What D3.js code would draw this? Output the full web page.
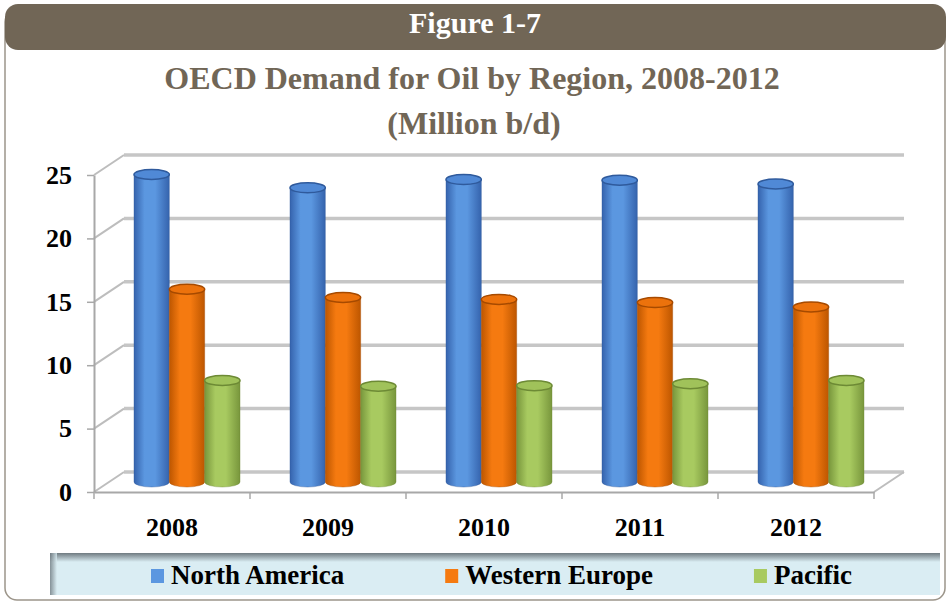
<!DOCTYPE html>
<html>
<head>
<meta charset="utf-8">
<script src="https://cdn.jsdelivr.net/npm/d3@7"></script>
<style>
  body { margin: 0; background: #fff; }
  svg { display: block; }
</style>
</head>
<body>
<svg id="chart"></svg>
<script>
// data
const years = ["2008", "2009", "2010", "2011", "2012"];
const seriesNames = ["North America", "Western Europe", "Pacific"];
const northAmerica = [24.25, 23.2, 23.85, 23.8, 23.5];
const westernEurope = [15.2, 14.55, 14.4, 14.15, 13.8];
const pacific = [8.0, 7.55, 7.6, 7.75, 8.0];
const yTicks = [0, 5, 10, 15, 20, 25];

const W = 948, H = 604;
const serif = "'Liberation Serif', 'Times New Roman', serif";
const brown = "#716656";

const seriesValues = [northAmerica, westernEurope, pacific];
const colors = [
  { edge: "#3563ad", mid: "#5b97e0", top: "#5089d6", rim: "#2f5a9c" },
  { edge: "#bd5600", mid: "#f57a10", top: "#ec720c", rim: "#a64a00" },
  { edge: "#78963c", mid: "#a8ca60", top: "#a0c25a", rim: "#6d8a35" }
];

const svg = d3.select("#chart").attr("width", W).attr("height", H);
const defs = svg.append("defs");

// gradients for cylinder bodies
colors.forEach((c, i) => {
  const g = defs.append("linearGradient").attr("id", "body" + i)
    .attr("x1", "0%").attr("x2", "100%").attr("y1", "0%").attr("y2", "0%");
  g.append("stop").attr("offset", "0%").attr("stop-color", c.edge);
  g.append("stop").attr("offset", "30%").attr("stop-color", c.mid);
  g.append("stop").attr("offset", "60%").attr("stop-color", c.mid);
  g.append("stop").attr("offset", "100%").attr("stop-color", c.edge);
});

// legend shadow gradients
const shTop = defs.append("linearGradient").attr("id", "shTop")
  .attr("x1", "0").attr("x2", "0").attr("y1", "0").attr("y2", "1");
shTop.append("stop").attr("offset", "0%").attr("stop-color", "#6f7a80");
shTop.append("stop").attr("offset", "100%").attr("stop-color", "#daedf3");
const shLeft = defs.append("linearGradient").attr("id", "shLeft")
  .attr("x1", "0").attr("x2", "1").attr("y1", "0").attr("y2", "0");
shLeft.append("stop").attr("offset", "0%").attr("stop-color", "#6f7a80");
shLeft.append("stop").attr("offset", "100%").attr("stop-color", "#daedf3");

// outer frame + header band
svg.append("rect")
  .attr("x", 5).attr("y", 10).attr("width", 940).attr("height", 590)
  .attr("rx", 12).attr("fill", "#fff")
  .attr("stroke", "#9c958a").attr("stroke-width", 1.5);
svg.append("rect")
  .attr("x", 5).attr("y", 4).attr("width", 941).attr("height", 46)
  .attr("rx", 13).attr("fill", brown);
svg.append("text")
  .attr("x", 475).attr("y", 33)
  .attr("text-anchor", "middle")
  .attr("font-family", serif).attr("font-weight", "bold").attr("font-size", 30)
  .attr("fill", "#fff")
  .text("Figure 1-7");

// title
svg.append("text")
  .attr("x", 472).attr("y", 89)
  .attr("text-anchor", "middle")
  .attr("font-family", serif).attr("font-weight", "bold").attr("font-size", 32)
  .attr("fill", brown)
  .text("OECD Demand for Oil by Region, 2008-2012");
svg.append("text")
  .attr("x", 474).attr("y", 134)
  .attr("text-anchor", "middle")
  .attr("font-family", serif).attr("font-weight", "bold").attr("font-size", 32)
  .attr("fill", brown)
  .text("(Million b/d)");

// scales
const x0 = d3.scaleBand().domain(years).range([94, 874]);
const x1 = d3.scaleBand().domain(seriesNames).range([25, 131]);
const y = d3.scaleLinear().domain([0, 25]).range([492, 175]);
const depth = { dx: 30, dy: -20 };

const plot = svg.append("g");

// back wall gridlines
plot.append("g").selectAll("line").data(yTicks).join("line")
  .attr("x1", x0.range()[0] + depth.dx).attr("x2", x0.range()[1] + depth.dx)
  .attr("y1", d => y(d) + depth.dy).attr("y2", d => y(d) + depth.dy)
  .attr("stroke", "#c6c6c6").attr("stroke-width", 3.5);

// side wall diagonals
plot.append("g").selectAll("line").data(yTicks).join("line")
  .attr("x1", x0.range()[0]).attr("x2", x0.range()[0] + depth.dx)
  .attr("y1", d => y(d)).attr("y2", d => y(d) + depth.dy)
  .attr("stroke", "#bdbdbd").attr("stroke-width", 2);

// floor right edge
plot.append("line")
  .attr("x1", x0.range()[1]).attr("x2", x0.range()[1] + depth.dx)
  .attr("y1", y(0)).attr("y2", y(0) + depth.dy)
  .attr("stroke", "#bdbdbd").attr("stroke-width", 2);

// y axis (front)
const yAxis = plot.append("g")
  .attr("transform", `translate(${x0.range()[0]},0)`)
  .call(d3.axisLeft(y).tickValues(yTicks).tickSize(7).tickSizeOuter(0).tickPadding(15));
yAxis.select(".domain").attr("stroke", "#a8a8a8").attr("stroke-width", 2);
yAxis.selectAll(".tick line").attr("stroke", "#a8a8a8").attr("stroke-width", 1.5);
yAxis.selectAll("text")
  .attr("font-family", serif).attr("font-weight", "bold").attr("font-size", 26)
  .attr("fill", "#000");

// x axis (front floor edge)
const xAxis = plot.append("g")
  .attr("transform", `translate(0,${y(0)})`)
  .call(d3.axisBottom(x0).tickSize(0).tickSizeOuter(0).tickPadding(26));
xAxis.select(".domain").attr("stroke", "#a8a8a8").attr("stroke-width", 2);
xAxis.selectAll("text")
  .attr("font-family", serif).attr("font-weight", "bold").attr("font-size", 26)
  .attr("fill", "#000");
// boundary ticks
const bounds = years.map(d => x0(d)).concat([x0.range()[1]]);
xAxis.append("g").selectAll("line").data(bounds).join("line")
  .attr("x1", d => d).attr("x2", d => d)
  .attr("y1", 0).attr("y2", 7)
  .attr("stroke", "#a8a8a8").attr("stroke-width", 1.5);

// cylinders
const rx = x1.bandwidth() / 2;
const ry = 5;
const bars = [];
seriesNames.forEach((s, si) => {
  years.forEach((yr, yi) => {
    bars.push({ s, si, yr, v: seriesValues[si][yi] });
  });
});

const cyl = plot.append("g").selectAll("g").data(bars).join("g")
  .attr("transform", d => `translate(${x0(d.yr) + x1(d.s) + rx + depth.dx / 2},${depth.dy / 2})`);

cyl.append("path")
  .attr("d", d => {
    const t = y(d.v), b = y(0);
    return `M${-rx},${t} L${-rx},${b} A${rx},${ry} 0 0 0 ${rx},${b} L${rx},${t} Z`;
  })
  .attr("fill", d => `url(#body${d.si})`)
  .attr("stroke", d => colors[d.si].rim).attr("stroke-width", 0.8).attr("stroke-opacity", 0.5);

cyl.append("ellipse")
  .attr("cx", 0).attr("cy", d => y(d.v))
  .attr("rx", rx).attr("ry", ry)
  .attr("fill", d => colors[d.si].top)
  .attr("stroke", d => colors[d.si].rim).attr("stroke-width", 1.5);

// legend
const leg = svg.append("g");
leg.append("rect").attr("x", 50).attr("y", 553).attr("width", 890).attr("height", 42)
  .attr("fill", "#daedf3");
leg.append("rect").attr("x", 50).attr("y", 553).attr("width", 890).attr("height", 9)
  .attr("fill", "url(#shTop)");
leg.append("rect").attr("x", 50).attr("y", 553).attr("width", 7).attr("height", 42)
  .attr("fill", "url(#shLeft)").attr("opacity", 0.8);

let lx = 151;
seriesNames.forEach((s, i) => {
  leg.append("rect").attr("x", lx).attr("y", 569).attr("width", 13).attr("height", 14)
    .attr("fill", colors[i].mid);
  const t = leg.append("text").attr("x", lx + 20).attr("y", 584)
    .attr("font-family", serif).attr("font-weight", "bold").attr("font-size", 27)
    .attr("fill", "#000").text(s);
  lx += 20 + t.node().getComputedTextLength() + 101;
});
</script>
</body>
</html>
